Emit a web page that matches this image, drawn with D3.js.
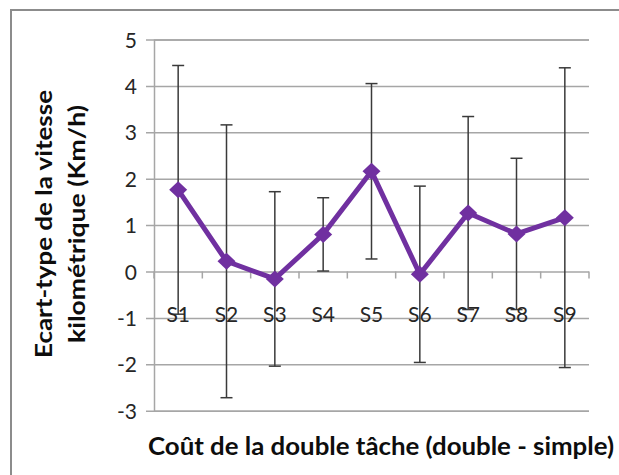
<!DOCTYPE html>
<html><head><meta charset="utf-8">
<script src="https://cdn.jsdelivr.net/npm/d3@7"></script>
<style>body{margin:0;background:#fff}svg{display:block}</style>
</head><body>
<svg id="c" width="619" height="475"></svg>
<script>
const categories = ["S1","S2","S3","S4","S5","S6","S7","S8","S9"];
const means = [1.76, 0.22, -0.16, 0.80, 2.16, -0.06, 1.26, 0.81, 1.16];
const errors = [2.68, 2.94, 1.88, 0.79, 1.89, 1.90, 2.08, 1.63, 3.23];
const yTicks = [-3,-2,-1,0,1,2,3,4,5];
const yTitle = ["Ecart-type de la vitesse", "kilométrique (Km/h)"];
const xTitle = "Coût de la double tâche (double - simple)";

const FONT = "Lato, 'Open Sans', sans-serif";
const svg = d3.select("#c");
const m = {left:154, right:589, top:39.5, bottom:410.7};
const x = d3.scaleBand().domain(categories).range([m.left, m.right]);
const y = d3.scaleLinear().domain([-3,5]).range([m.bottom, m.top]);

// outer frame
svg.append("rect").attr("x",11).attr("y",10).attr("width",640).attr("height",500)
  .attr("fill","none").attr("stroke","#8c8c8c").attr("stroke-width",2);

// gridlines + y axis
const yAxis = d3.axisLeft(y).tickValues(yTicks).tickSize(-(m.right-m.left)).tickPadding(17).tickFormat(d => String(d));
const gy = svg.append("g").attr("transform",`translate(${m.left},0)`).call(yAxis);
gy.select(".domain").attr("stroke","#a6a6a6").attr("stroke-width",1.5);
gy.selectAll(".tick line").attr("stroke","#a6a6a6").attr("stroke-width",1.5).attr("x1",-8);
gy.selectAll(".tick text").attr("font-family",FONT).attr("font-size",21).attr("fill","#262626").attr("dy","0.36em");

// x axis at zero
const xAxis = d3.axisBottom(x).tickSize(0).tickPadding(0);
const gx = svg.append("g").attr("transform",`translate(0,${y(0)})`).call(xAxis);
gx.select(".domain").remove();
gx.selectAll(".tick text").attr("font-family",FONT).attr("font-size",21).attr("fill","#262626").attr("y",50).attr("dy",0);
// boundary ticks
const bounds = categories.map(c => x(c)).concat([x.range()[1]]);
svg.append("g").selectAll("line").data(bounds).join("line")
  .attr("x1",d=>d).attr("x2",d=>d).attr("y1",y(0)).attr("y2",y(0)+7)
  .attr("stroke","#a6a6a6").attr("stroke-width",1.5);

// error bars
const cx = c => x(c) + x.bandwidth()/2;
const eb = svg.append("g").attr("stroke","#3a3a3a").attr("stroke-width",1.5);
categories.forEach((c,i)=>{
  const hi = y(means[i]+errors[i]), lo = y(means[i]-errors[i]);
  eb.append("line").attr("x1",cx(c)).attr("x2",cx(c)).attr("y1",hi).attr("y2",lo);
  eb.append("line").attr("x1",cx(c)-6).attr("x2",cx(c)+6).attr("y1",hi).attr("y2",hi);
  eb.append("line").attr("x1",cx(c)-6).attr("x2",cx(c)+6).attr("y1",lo).attr("y2",lo);
});

gx.raise();

// line
const line = d3.line().x((d,i)=>cx(categories[i])).y(d=>y(d));
svg.append("path").datum(means).attr("d",line).attr("fill","none")
  .attr("stroke","#7030a0").attr("stroke-width",5).attr("stroke-linejoin","miter");

// markers
svg.append("g").selectAll("path").data(means).join("path")
  .attr("transform",(d,i)=>`translate(${cx(categories[i])},${y(d)})`)
  .attr("d","M0,-8.5L9,0L0,8.5L-9,0Z").attr("fill","#7030a0");

// titles
const yt = svg.append("text").attr("transform","translate(0,224) rotate(-90)")
  .attr("font-family",FONT).attr("font-weight","bold").attr("font-size",23)
  .attr("fill","#0d0d0d").attr("text-anchor","middle");
yt.append("tspan").attr("x",0).attr("y",52).attr("textLength",268).attr("lengthAdjust","spacingAndGlyphs").text(yTitle[0]);
yt.append("tspan").attr("x",0).attr("y",85).attr("textLength",238).attr("lengthAdjust","spacingAndGlyphs").text(yTitle[1]);

svg.append("text").attr("x",381).attr("y",455).attr("text-anchor","middle")
  .attr("textLength",466).attr("lengthAdjust","spacingAndGlyphs")
  .attr("font-family",FONT).attr("font-weight","bold").attr("font-size",24)
  .attr("fill","#0d0d0d").text(xTitle);
</script>
</body></html>
